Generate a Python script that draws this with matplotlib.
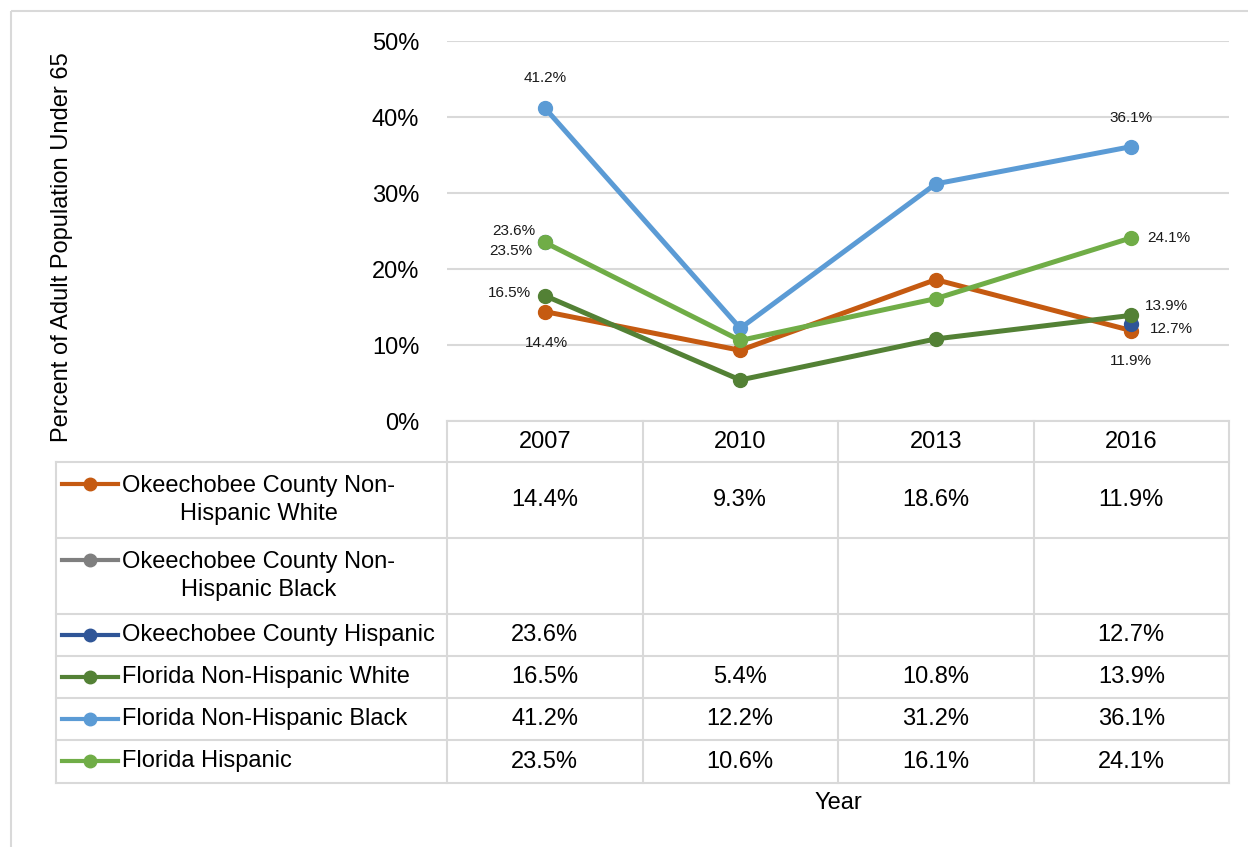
"""
Uninsured adults under 65 by race/ethnicity, Okeechobee County vs Florida.
Line chart with an Excel-style data table underneath.
"""

import numpy as np
import matplotlib
matplotlib.use('Agg')
import matplotlib.pyplot as plt
from matplotlib.patches import Rectangle
from matplotlib.ticker import MultipleLocator, FuncFormatter
from matplotlib.transforms import blended_transform_factory

plt.rcParams['font.family'] = ['Liberation Sans', 'DejaVu Sans']

# ---------------------------------------------------------------------------
# Data
# ---------------------------------------------------------------------------
years = ['2007', '2010', '2013', '2016']
series_names = ['Okeechobee County Non-\nHispanic White',
                'Okeechobee County Non-\nHispanic Black',
                'Okeechobee County Hispanic',
                'Florida Non-Hispanic White',
                'Florida Non-Hispanic Black',
                'Florida Hispanic']

okee_nh_white = [14.4, 9.3, 18.6, 11.9]
okee_nh_black = [np.nan, np.nan, np.nan, np.nan]
okee_hispanic = [23.6, np.nan, np.nan, 12.7]
fl_nh_white = [16.5, 5.4, 10.8, 13.9]
fl_nh_black = [41.2, 12.2, 31.2, 36.1]
fl_hispanic = [23.5, 10.6, 16.1, 24.1]

series_values = [okee_nh_white, okee_nh_black, okee_hispanic,
                 fl_nh_white, fl_nh_black, fl_hispanic]

colors = ['#C55A11', '#7F7F7F', '#2F5597', '#538135', '#5B9BD5', '#70AD47']

# which points carry a data label: (series, year) -> (dx px, dy px, ha)
label_layout = {
    (4, 0): (0, 30, 'center'), (4, 3): (0, 29, 'center'),
    (2, 0): (-9, 11, 'right'), (5, 0): (-12, -9, 'right'),
    (3, 0): (-14, 3, 'right'), (0, 0): (2, -31, 'center'),
    (5, 3): (16, 0, 'left'), (3, 3): (14, 9, 'left'),
    (2, 3): (19, -5, 'left'), (0, 3): (0, -30, 'center'),
}

# ---------------------------------------------------------------------------
# Layout (pixel geometry of the original)
# ---------------------------------------------------------------------------
W, H = 1248, 847
fig = plt.figure(figsize=(W / 100, H / 100), dpi=100)

# full-figure pixel canvas for the table and the frame
bg = fig.add_axes([0, 0, 1, 1])
bg.set_xlim(0, W)
bg.set_ylim(H, 0)
bg.axis('off')

plot_left, plot_right, plot_top, plot_bottom = 447, 1229, 41, 421
ax = fig.add_axes([plot_left / W, 1 - plot_bottom / H,
                   (plot_right - plot_left) / W, (plot_bottom - plot_top) / H])
ax.patch.set_alpha(0)

x = np.arange(len(years))
for i, (vals, col) in enumerate(zip(series_values, colors)):
    ax.plot(x, vals, color=col, lw=3.6, marker='o', ms=10,
            solid_capstyle='round', zorder=3 + i * 0.1)

for (si, yi), (dx, dy, ha) in label_layout.items():
    v = series_values[si][yi]
    ax.annotate(f'{v:.1f}%', (x[yi], v), xytext=(dx, dy),
                textcoords='offset pixels', ha=ha, va='center',
                fontsize=11, color='#1a1a1a', zorder=10)

ax.set_xlim(-0.5, len(years) - 0.5)
ax.set_ylim(0, 50)
ax.yaxis.set_major_locator(MultipleLocator(10))
ax.yaxis.set_major_formatter(FuncFormatter(lambda v, p: f'{v:.0f}%'))
ax.tick_params(axis='y', length=0, pad=20, labelsize=17)
ax.set_xticks([])
ax.grid(axis='y', color='#D9D9D9', lw=1.5)
ax.set_axisbelow(True)
for s in ax.spines.values():
    s.set_visible(False)

# ---------------------------------------------------------------------------
# Data table
# ---------------------------------------------------------------------------
grid_col = '#D9D9D9'
table_left = 56
row_edges = [421, 462, 538, 614, 656, 698, 740, 783]
trans = blended_transform_factory(ax.transData, bg.transData)
col_edges = np.arange(len(years) + 1) - 0.5

# horizontal lines
bg.plot([plot_left, plot_right], [row_edges[0]] * 2, color=grid_col, lw=1.5)
for yy in row_edges[1:]:
    bg.plot([table_left, plot_right], [yy, yy], color=grid_col, lw=1.5)
# vertical lines
bg.plot([table_left, table_left], [row_edges[1], row_edges[-1]],
        color=grid_col, lw=1.5)
for ce in col_edges:
    bg.plot([ce, ce], [row_edges[0], row_edges[-1]], color=grid_col,
            lw=1.5, transform=trans)

# header
hy = (row_edges[0] + row_edges[1]) / 2
for j, yr in enumerate(years):
    bg.text(x[j], hy, yr, transform=trans, ha='center', va='center',
            fontsize=17)

# rows
for r, (name, vals, col) in enumerate(zip(series_names, series_values, colors)):
    top, bot = row_edges[r + 1], row_edges[r + 2]
    cy = (top + bot) / 2
    my = top + 22 if '\n' in name else cy
    bg.plot([62, 90, 118], [my, my, my], color=col, lw=3, marker='o',
            ms=9, markevery=[1])
    bg.text(122, cy, name, ha='left', va='center', multialignment='center',
            fontsize=17, linespacing=1.35)
    for j, v in enumerate(vals):
        if not np.isnan(v):
            bg.text(x[j], cy, f'{v:.1f}%', transform=trans, ha='center',
                    va='center', fontsize=17)

# axis titles
bg.text(838, 803, 'Year', ha='center', va='center', fontsize=17)
bg.text(62, 247, 'Percent of Adult Population Under 65', rotation=90,
        ha='center', va='center', fontsize=17)

# outer chart frame
bg.add_patch(Rectangle((11, 11), 1400, 1000, fill=False,
                       edgecolor='#D9D9D9', lw=1.5))

fig.savefig('out.png', dpi=100, facecolor='white')
